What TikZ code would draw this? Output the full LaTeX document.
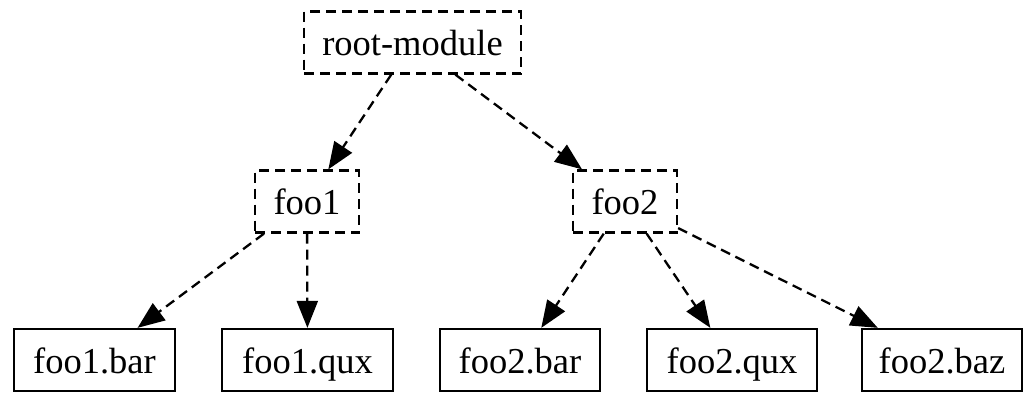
\documentclass[tikz,border=0pt]{standalone}
\usepackage{fontspec}
\setmainfont{Liberation Serif}
\usetikzlibrary{arrows.meta}
\begin{document}
\begin{tikzpicture}[x=1pt,y=-1pt,
  box/.style={draw,line width=2.3pt,inner sep=0pt,font=\fontsize{36.5}{44}\selectfont,text height=29pt,text depth=3pt,minimum height=62pt},
  dbox/.style={box,dash pattern=on 10pt off 6pt},
  link/.style={line width=2.3pt,dash pattern=on 10pt off 6pt,-{Triangle[length=27pt,width=21pt]}}]
\useasboundingbox (0,0) rectangle (1025,394);
\node[dbox,minimum width=217pt] (root) at (412.5,42.5) {root-module};
\node[dbox,minimum width=104pt] (foo1) at (307,201.5) {foo1};
\node[dbox,minimum width=104pt] (foo2) at (625,201.5) {foo2};
\node[box,minimum width=161pt] (f1bar) at (94.5,360) {foo1.bar};
\node[box,minimum width=171pt] (f1qux) at (307.5,360) {foo1.qux};
\node[box,minimum width=160pt] (f2bar) at (520,360) {foo2.bar};
\node[box,minimum width=170pt] (f2qux) at (732,360) {foo2.qux};
\node[box,minimum width=160pt] (f2baz) at (942,360) {foo2.baz};
\draw[link] (root) -- (foo1);
\draw[link] (root) -- (foo2);
\draw[link] (foo1) -- (f1bar);
\draw[link] (foo1) -- (f1qux);
\draw[link] (foo2) -- (f2bar);
\draw[link] (foo2) -- (f2qux);
\draw[link] (foo2) -- (f2baz);
\end{tikzpicture}
\end{document}
